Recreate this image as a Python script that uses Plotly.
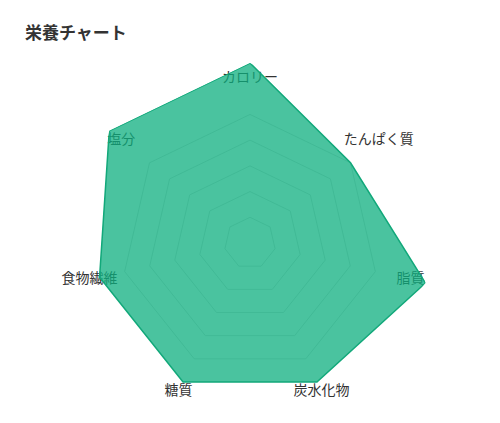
import plotly.graph_objects as go

categories = ["カロリー", "たんぱく質", "脂質", "炭水化物", "糖質", "食物繊維", "塩分"]
values = [140, 100, 140, 120, 120, 120, 140]
grid_levels = [20, 40, 60, 80, 100]
title_text = "栄養チャート"

RADIAL_MAX = 140
LABEL_R = 128
FONT = "Noto Sans CJK JP, Noto Sans, sans-serif"

W, H = 500, 423
OFF = 8  # page body margin offset
CX, CY, RAD = 250 - OFF, 243 - OFF, 180

fig = go.Figure()

# category labels (drawn beneath the filled area)
fig.add_trace(go.Scatterpolar(
    r=[LABEL_R] * len(categories),
    theta=categories,
    mode="text",
    text=categories,
    textposition="middle center",
    textfont=dict(family=FONT, size=14, color="#333333"),
    cliponaxis=False,
    hoverinfo="skip",
    showlegend=False,
))

fig.add_trace(go.Scatterpolar(
    r=values + values[:1],
    theta=categories + categories[:1],
    mode="lines",
    fill="toself",
    fillcolor="rgba(14,175,127,0.75)",
    line=dict(color="#12a87a", width=1.5),
    showlegend=False,
    name="栄養",
))

fig.update_layout(
    width=W,
    height=H,
    margin=dict(l=0, r=0, t=0, b=0),
    paper_bgcolor="white",
    plot_bgcolor="white",
    title=dict(
        text=title_text,
        x=(25 - OFF) / W,
        xanchor="left",
        y=(H - (33 - OFF)) / H,
        yanchor="middle",
        yref="container",
        font=dict(family=FONT, size=17, color="#333333", weight="bold"),
    ),
    polar=dict(
        domain=dict(x=[(CX - RAD) / W, (CX + RAD) / W],
                    y=[(H - CY - RAD) / H, (H - CY + RAD) / H]),
        bgcolor="rgba(0,0,0,0)",
        gridshape="linear",
        radialaxis=dict(
            range=[0, RADIAL_MAX],
            tickvals=grid_levels,
            showticklabels=False,
            ticks="",
            showline=False,
            gridcolor="#d9d9d9",
            gridwidth=1,
        ),
        angularaxis=dict(
            categoryorder="array",
            categoryarray=categories,
            direction="clockwise",
            rotation=90,
            showticklabels=False,
            ticks="",
            showline=False,
            showgrid=False,
        ),
    ),
)

fig.write_html("out.html")
